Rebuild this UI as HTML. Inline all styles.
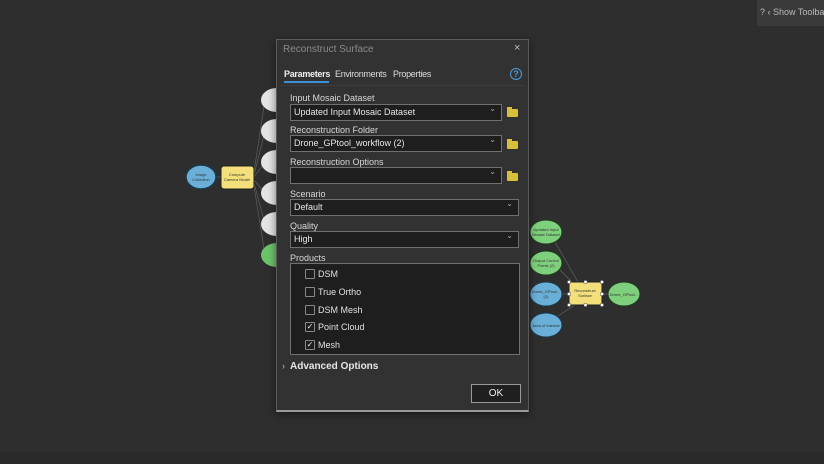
<!DOCTYPE html>
<html><head><meta charset="utf-8"><style>
*{margin:0;padding:0;box-sizing:border-box}
body{width:824px;height:464px;background:#2e2e2e;overflow:hidden;position:relative;font-family:"Liberation Sans",sans-serif;color:#ddd}
.a{position:absolute}
.lbl{position:absolute;left:290px;font-size:9px;color:#d8d8d8}
.fld{position:absolute;left:290px;height:17px;background:#1e1e1e;border:1px solid #707070;font-size:9px;color:#e6e6e6;padding:2px 3px;line-height:11px}
.fld:after{content:"\2304";position:absolute;right:5px;top:-2px;font-size:8px;color:#aaa}
.fold{position:absolute;left:507px;width:11px;height:8px;background:#d9c03a;border-radius:1px}
.fold:before{content:"";position:absolute;left:0;top:-2px;width:5px;height:3px;background:#d9c03a}
.cb{position:absolute;left:305px;width:10px;height:10px;border:1px solid #888;border-radius:1px;font-size:8px;line-height:8px;text-align:center;color:#eee}
.ct{position:absolute;left:318px;font-size:9px;color:#e0e0e0}
.tab{position:absolute;top:69px;font-size:9px;letter-spacing:-0.3px;color:#ddd;white-space:nowrap}
</style></head><body>
<div class="a" style="left:0;top:452px;width:824px;height:12px;background:#2a2a2a"></div>
<div class="a" style="left:757px;top:0;width:67px;height:26px;background:#3a3a3a;font-size:9px;color:#bbb;padding:7px 0 0 3px;white-space:nowrap">? &lsaquo; Show Toolba</div>
<svg class="a" style="left:0;top:0" width="824" height="464">
<g stroke="#666" stroke-width="0.6" fill="none">
<line x1="254" y1="172" x2="265" y2="100"/><line x1="254" y1="175" x2="265" y2="131"/><line x1="254" y1="177" x2="265" y2="162"/><line x1="254" y1="180" x2="265" y2="193"/><line x1="254" y1="183" x2="265" y2="224"/><line x1="254" y1="186" x2="265" y2="255"/>
<line x1="216" y1="177" x2="221" y2="177"/>
<line x1="555" y1="242" x2="578" y2="282"/><line x1="560" y1="270" x2="572" y2="282"/><line x1="562" y1="294" x2="569" y2="294"/><line x1="558" y1="316" x2="575" y2="305"/><line x1="602" y1="294" x2="608" y2="294"/>
</g>
<g font-size="4" fill="#333" text-anchor="middle">
<ellipse cx="201" cy="177" rx="15" ry="12" fill="#6aafd8" stroke="#1c3a4a" stroke-width="1.5"/><text x="201" y="176">Image</text><text x="201" y="181">Collection</text>
<rect x="221" y="166" width="33" height="23" rx="3" fill="#f3e07a" stroke="#222"/><text x="237" y="176">Compute</text><text x="237" y="181">Camera Model</text>
<ellipse cx="277" cy="100" rx="16" ry="12" fill="#e4e4e4"/><ellipse cx="277" cy="131" rx="16" ry="12" fill="#e4e4e4"/><ellipse cx="277" cy="162" rx="16" ry="12" fill="#e4e4e4"/><ellipse cx="277" cy="193" rx="16" ry="12" fill="#e4e4e4"/><ellipse cx="277" cy="224" rx="16" ry="12" fill="#e4e4e4"/><ellipse cx="277" cy="255" rx="16" ry="12" fill="#6cc46a"/>
<ellipse cx="546" cy="232" rx="16" ry="12" fill="#7fd07c" stroke="#1e3a1e"/><text x="546" y="231">Updated Input</text><text x="546" y="236">Mosaic Dataset</text>
<ellipse cx="546" cy="263" rx="16" ry="12" fill="#7fd07c" stroke="#1e3a1e"/><text x="546" y="262">Output Control</text><text x="546" y="267">Points (2)</text>
<ellipse cx="546" cy="294" rx="16" ry="12" fill="#6aafd8" stroke="#1c3a4a"/><text x="546" y="293">Drone_GPtool...</text><text x="546" y="298">(2)</text>
<ellipse cx="546" cy="325" rx="16" ry="12" fill="#6aafd8" stroke="#1c3a4a"/><text x="546" y="327">Area of Interest</text>
<rect x="569" y="282" width="33" height="23" fill="#f3e07a" stroke="#222"/><text x="585" y="292">Reconstruct</text><text x="585" y="297">Surface</text>
<g fill="#fff" stroke="#333" stroke-width="0.4"><rect x="567.5" y="280.5" width="3" height="3"/><rect x="584" y="280.5" width="3" height="3"/><rect x="600.5" y="280.5" width="3" height="3"/><rect x="567.5" y="292.5" width="3" height="3"/><rect x="600.5" y="292.5" width="3" height="3"/><rect x="567.5" y="303.5" width="3" height="3"/><rect x="584" y="303.5" width="3" height="3"/><rect x="600.5" y="303.5" width="3" height="3"/></g>
<ellipse cx="624" cy="294" rx="16" ry="12" fill="#7fd07c" stroke="#1e3a1e"/><text x="624" y="296">Drone_GPtool...</text>
</g>
</svg>
<div class="a" style="left:276px;top:39px;width:253px;height:373px;background:#323232;border:1px solid #5a5a5a;border-bottom:2px solid #9a9a9a;box-shadow:0 2px 8px rgba(0,0,0,.5)"></div>
<div class="a" style="left:283px;top:44px;font-size:10px;color:#8a8a8a">Reconstruct Surface</div>
<div class="a" style="left:514px;top:42px;font-size:11px;color:#bbb">×</div>
<div class="tab" style="left:284px;color:#eee;font-weight:bold">Parameters</div>
<div class="a" style="left:284px;top:81px;width:45px;height:2px;background:#3d8fd6"></div>
<div class="tab" style="left:335px">Environments</div>
<div class="tab" style="left:393px">Properties</div>
<div class="a" style="left:510px;top:68px;width:12px;height:12px;border-radius:50%;border:1px solid #4a9be0;color:#4a9be0;font-size:9px;text-align:center;line-height:10px;font-weight:bold">?</div>
<div class="a" style="left:280px;top:85px;width:245px;height:1px;background:#3c3c3c"></div>

<div class="lbl" style="top:93px">Input Mosaic Dataset</div>
<div class="fld" style="top:104px;width:212px">Updated Input Mosaic Dataset</div><div class="fold" style="top:109px"></div>
<div class="lbl" style="top:125px">Reconstruction Folder</div>
<div class="fld" style="top:135px;width:212px">Drone_GPtool_workflow (2)</div><div class="fold" style="top:141px"></div>
<div class="lbl" style="top:157px">Reconstruction Options</div>
<div class="fld" style="top:167px;width:212px"></div><div class="fold" style="top:173px"></div>
<div class="lbl" style="top:189px">Scenario</div>
<div class="fld" style="top:199px;width:229px">Default</div>
<div class="lbl" style="top:221px">Quality</div>
<div class="fld" style="top:231px;width:229px">High</div>
<div class="lbl" style="top:253px">Products</div>
<div class="a" style="left:290px;top:263px;width:230px;height:92px;background:#1e1e1e;border:1px solid #707070"></div>
<div class="cb" style="top:269px"></div><div class="ct" style="top:269px">DSM</div>
<div class="cb" style="top:287px"></div><div class="ct" style="top:287px">True Ortho</div>
<div class="cb" style="top:305px"></div><div class="ct" style="top:305px">DSM Mesh</div>
<div class="cb" style="top:322px">✓</div><div class="ct" style="top:322px">Point Cloud</div>
<div class="cb" style="top:340px">✓</div><div class="ct" style="top:340px">Mesh</div>
<div class="a" style="left:282px;top:361px;font-size:9px;color:#bbb">›</div>
<div class="a" style="left:290px;top:361px;font-size:10px;color:#e6e6e6;font-weight:bold">Advanced Options</div>
<div class="a" style="left:471px;top:384px;width:50px;height:19px;background:#1f1f1f;border:1px solid #9a9a9a;font-size:10px;color:#eee;text-align:center;line-height:17px">OK</div>
</body></html>
